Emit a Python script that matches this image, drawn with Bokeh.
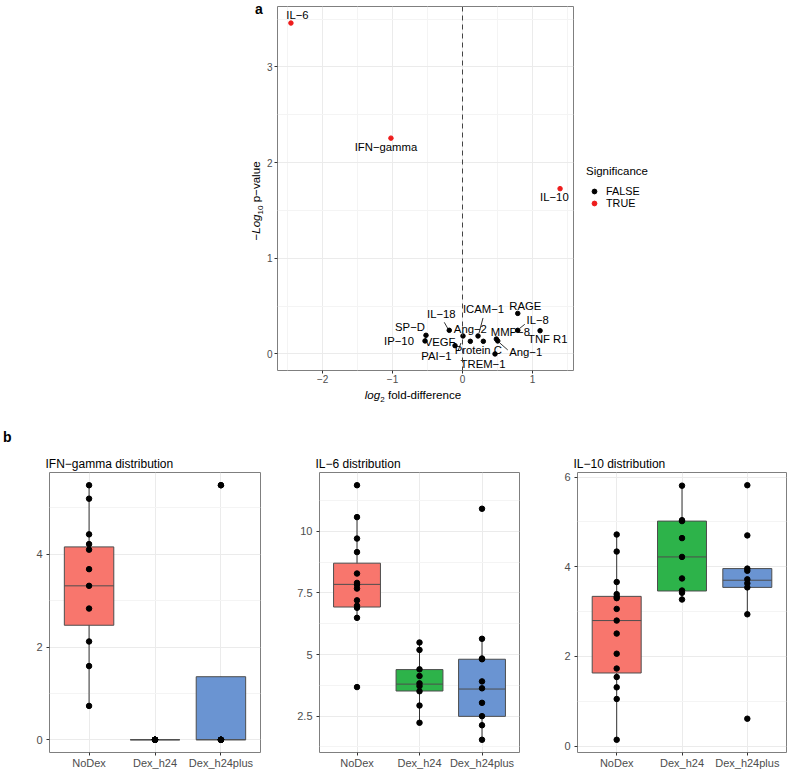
import numpy as np
from bokeh.plotting import figure
from bokeh.models import Range1d, FixedTicker, Legend, LegendItem, ColumnDataSource, Span, Div
from bokeh.layouts import column, row
from bokeh.embed import file_html
from bokeh.resources import INLINE
from bokeh.core.properties import value

FONT = "Liberation Sans"

# ---------------- data: volcano plot ----------------
genes = ["IL−6", "IFN−gamma", "IL−10", "RAGE", "IL−8", "TNF R1", "MMP−8", "Ang−1",
         "TREM−1", "Protein C", "ICAM−1", "Ang−2", "VEGF", "PAI−1", "IL−18", "SP−D", "IP−10"]
log2_fold = [-2.453, -1.023, 1.395, 0.790, 0.790, 1.109, 0.484, 0.504,
             0.465, 0.112, 0.222, 0.298, -0.107, 0.007, -0.189, -0.522, -0.536]
neg_log10_p = [3.459, 2.256, 1.728, 0.424, 0.247, 0.243, 0.156, 0.136,
               0.000, 0.132, 0.188, 0.132, 0.087, 0.188, 0.247, 0.195, 0.136]
significance = [True, True, True] + [False] * 14
vol_xticks = [-2, -1, 0, 1]
vol_xtick_labels = ["−2", "−1", "0", "1"]
vol_yticks = [0, 1, 2, 3]

# label placement (screen pixel offsets from each point; style only)
label_dx = [6.5, -5, -5.7, 7.5, 20, 7.7, 14, 28, -12, 8, 5.5, -13, -15, -26.5, -8, -16, -26]
label_dy = [-8, 8.5, 8, -7, -10, 8.5, -7, 11.5, 10, 9, -26.5, -12, -4, 20.5, -16, -8, 0]
# connector segments (gene, start offset px, end offset px)
connectors = [("IL−18", (-1, -1), (-5, -8)),
              ("ICAM−1", (1, -3), (5, -18)),
              ("IL−8", (2, -2), (7, -6)),
              ("Ang−1", (2, 2), (10, 9)),
              ("PAI−1", (-2, 7), (-5, 15))]

# ---------------- data: box plots ----------------
groups = ["NoDex", "Dex_h24", "Dex_h24plus"]

ifn_nodex = [5.49, 5.20, 4.43, 4.22, 4.10, 3.68, 3.32, 2.83, 2.12, 1.59, 0.73]
ifn_dex_h24 = [0.0] * 9
ifn_dex_h24plus = [0.0, 0.0, 0.0, 0.0, 0.0, 0.0, 5.49, 5.49]
ifn_q1 = [2.47, 0.0, 0.0]
ifn_med = [3.32, 0.0, 0.0]
ifn_q3 = [4.16, 0.0, 1.36]
ifn_lo = [0.73, 0.0, 0.0]
ifn_hi = [5.49, 0.0, 1.36]

il6_nodex = [11.875, 10.58, 9.71, 9.16, 8.29, 7.91, 7.83, 7.68, 7.20, 6.98, 6.90, 6.49, 3.68]
il6_dex_h24 = [5.49, 5.19, 4.40, 4.13, 3.83, 3.72, 3.51, 2.93, 2.23]
il6_dex_h24plus = [10.92, 5.64, 4.84, 4.81, 3.91, 3.63, 3.04, 2.50, 2.13, 1.54]
il6_q1 = [6.93, 3.52, 2.49]
il6_med = [7.85, 3.80, 3.60]
il6_q3 = [8.71, 4.39, 4.81]
il6_lo = [6.49, 2.23, 1.54]
il6_hi = [10.58, 5.49, 5.64]

il10_nodex = [4.72, 4.34, 3.66, 3.39, 3.33, 3.30, 3.06, 2.80, 2.51, 2.06, 1.73, 1.54, 1.31, 1.05, 0.14]
il10_dex_h24 = [5.81, 5.04, 5.02, 4.64, 4.22, 3.74, 3.47, 3.42, 3.27]
il10_dex_h24plus = [5.82, 4.70, 3.96, 3.91, 3.72, 3.63, 3.54, 2.94, 0.61]
il10_q1 = [1.63, 3.46, 3.54]
il10_med = [2.80, 4.22, 3.70]
il10_q3 = [3.34, 5.02, 3.96]
il10_lo = [0.14, 3.27, 2.94]
il10_hi = [4.72, 5.81, 3.96]

box_colors = ["#F8766D", "#2DB34A", "#6A94D2"]


def style_axes(p, tick_size):
    p.axis.axis_line_color = None
    p.axis.major_tick_line_color = "#333333"
    p.axis.major_tick_out = 3
    p.axis.major_tick_in = 0
    p.axis.minor_tick_line_color = None
    p.axis.major_label_text_color = "#4D4D4D"
    p.axis.major_label_text_font = FONT
    p.axis.major_label_text_font_size = tick_size
    p.grid.grid_line_color = "#EBEBEB"
    p.grid.minor_grid_line_color = "#F4F4F4"
    p.outline_line_color = "#7F7F7F"
    p.outline_line_width = 1
    p.background_fill_color = "white"
    p.border_fill_color = "white"


# ---------------- volcano figure ----------------
vx0, vx1, vy0, vy1 = -2.645, 1.587, -0.173, 3.632
V_FW, V_FH = 296, 364

vol = figure(frame_width=V_FW, frame_height=V_FH,
             x_range=Range1d(vx0, vx1), y_range=Range1d(vy0, vy1),
             output_backend="svg", toolbar_location=None, title=None,
             min_border_left=13, min_border_right=2,
             min_border_top=6, min_border_bottom=14)
style_axes(vol, "10px")
xt = FixedTicker(ticks=vol_xticks, minor_ticks=[-2.5, -1.5, -0.5, 0.5, 1.5])
yt = FixedTicker(ticks=vol_yticks, minor_ticks=[0.5, 1.5, 2.5, 3.5])
vol.xaxis.ticker = xt
vol.xgrid.ticker = xt
vol.yaxis.ticker = yt
vol.ygrid.ticker = yt
vol.xaxis.major_label_overrides = {t: l for t, l in zip(vol_xticks, vol_xtick_labels)}
vol.xaxis.major_label_standoff = 0
vol.yaxis.major_label_standoff = 1

vol.add_layout(Span(location=0, dimension="height", line_color="#444444",
                    line_dash="5 4", line_width=1))

sig = np.array(significance)
gx = np.array(log2_fold)
gy = np.array(neg_log10_p)
src_f = ColumnDataSource(dict(x=gx[~sig], y=gy[~sig]))
src_t = ColumnDataSource(dict(x=gx[sig], y=gy[sig]))
vol.scatter("x", "y", source=src_f, size=4.5, color="black")
vol.scatter("x", "y", source=src_t, size=4.5, color="#EE1C1C")

pxu = V_FW / (vx1 - vx0)
pyu = V_FH / (vy1 - vy0)
idx = {g: i for i, g in enumerate(genes)}
sx0, sy0, sx1, sy1 = [], [], [], []
for g, (a0, b0), (a1, b1) in connectors:
    i = idx[g]
    sx0.append(gx[i] + a0 / pxu); sy0.append(gy[i] - b0 / pyu)
    sx1.append(gx[i] + a1 / pxu); sy1.append(gy[i] - b1 / pyu)
vol.segment(sx0, sy0, sx1, sy1, line_color="black", line_width=0.8)

lab_src = ColumnDataSource(dict(x=gx, y=gy, text=genes, dx=label_dx, dy=label_dy))
vol.text("x", "y", text="text", x_offset="dx", y_offset="dy", source=lab_src,
         text_font=value(FONT), text_font_size="11.3px", text_color="black",
         text_align="center", text_baseline="middle")

# ---------------- legend figure (beside the volcano) ----------------
leg = figure(frame_width=100, frame_height=374, x_range=Range1d(10, 11), y_range=Range1d(10, 11),
             output_backend="svg", toolbar_location=None, title=None,
             x_axis_location=None, y_axis_location=None, min_border=0)
leg.outline_line_color = None
leg.background_fill_color = "white"
leg.border_fill_color = "white"
leg.grid.grid_line_color = None
leg.grid.minor_grid_line_color = None
leg.grid.visible = False
lf = leg.scatter("x", "y", source=src_f, size=4.5, color="black")
lt = leg.scatter("x", "y", source=src_t, size=4.5, color="#EE1C1C")
legend = Legend(items=[LegendItem(label="FALSE", renderers=[lf]),
                       LegendItem(label="TRUE", renderers=[lt])],
                title="Significance", location="center_left", orientation="vertical",
                margin=11, padding=10, spacing=0, glyph_width=16, glyph_height=12,
                label_height=12, label_width=30, label_standoff=4, title_standoff=8,
                border_line_color=None, background_fill_alpha=0,
                label_text_font=FONT, label_text_font_size="10.8px",
                label_text_color="black",
                title_text_font=FONT, title_text_font_size="11.5px",
                title_text_font_style="normal", title_text_color="black")
leg.add_layout(legend)

# ---------------- HTML text blocks (panel letters, axis titles) ----------------
FF = "font-family:'Liberation Sans',Arial,sans-serif;color:black;"
left_html = (
    f'<div style="position:relative;width:263px;height:386px;{FF}">'
    '<div style="position:absolute;left:255px;top:2px;font-size:14px;font-weight:bold;line-height:14px;">a</div>'
    '<div style="position:absolute;left:255px;top:201px;width:0;height:0;">'
    '<div style="position:absolute;left:0;top:0;transform:translate(-50%,-50%) rotate(-90deg);'
    'white-space:nowrap;font-size:11.6px;line-height:13px;">'
    '−<i>Log</i><sub style="font-size:8px;line-height:0;">10</sub> p−value</div></div>'
    '</div>')
left_div = Div(text=left_html, width=263, height=386, margin=0)

mid_html = (
    f'<div style="position:relative;width:788px;height:66px;{FF}">'
    '<div style="position:absolute;left:413px;top:8px;transform:translate(-50%,-50%);'
    'white-space:nowrap;font-size:11.6px;line-height:13px;">'
    '<i>log</i><sub style="font-size:8px;line-height:0;">2</sub> fold-difference</div>'
    '<div style="position:absolute;left:3px;top:51px;transform:translate(0,-50%);'
    'font-size:14px;font-weight:bold;line-height:14px;">b</div>'
    '</div>')
mid_div = Div(text=mid_html, width=788, height=66, margin=0)

# ---------------- box plot figures ----------------
B_FH = 280


def box_fig(title, vals, q1, med, q3, lo, hi, ticks, minors, ml, fw, mr):
    allv = np.concatenate([np.asarray(v, float) for v in vals])
    pad = 0.05 * (allv.max() - allv.min())
    p = figure(frame_width=fw, frame_height=B_FH, title=title,
               x_range=Range1d(0.4, 3.6), y_range=Range1d(allv.min() - pad, allv.max() + pad),
               output_backend="svg", toolbar_location=None,
               min_border_left=ml, min_border_right=mr,
               min_border_top=0, min_border_bottom=0)
    style_axes(p, "11px")
    p.title.align = "left"
    p.title.offset = -4
    p.title.standoff = 4
    p.title.text_font = FONT
    p.title.text_font_size = "12px"
    p.title.text_font_style = "normal"
    p.title.text_color = "black"
    xtk = FixedTicker(ticks=[1, 2, 3], minor_ticks=[])
    ytk = FixedTicker(ticks=ticks, minor_ticks=minors)
    p.xaxis.ticker = xtk
    p.xgrid.ticker = xtk
    p.yaxis.ticker = ytk
    p.ygrid.ticker = ytk
    p.xaxis.major_label_overrides = {i + 1: g for i, g in enumerate(groups)}
    p.xaxis.major_label_standoff = 1
    p.yaxis.major_label_standoff = 3
    xs = np.arange(1, len(groups) + 1, dtype=float)
    p.segment(xs, lo, xs, hi, line_color="#333333", line_width=1)
    p.vbar(x=xs, width=0.75, bottom=q1, top=q3, fill_color=box_colors,
           line_color="#4D4D4D", line_width=1)
    p.segment(xs - 0.375, med, xs + 0.375, med, line_color="#4D4D4D", line_width=1)
    px = np.concatenate([np.full(len(v), i + 1.0) for i, v in enumerate(vals)])
    p.scatter(px, allv, size=5.5, color="black")
    return p


p1 = box_fig("IFN−gamma distribution", [ifn_nodex, ifn_dex_h24, ifn_dex_h24plus],
             ifn_q1, ifn_med, ifn_q3, ifn_lo, ifn_hi, [0, 2, 4], [1, 3, 5],
             49, 211, 20)
p2 = box_fig("IL−6 distribution", [il6_nodex, il6_dex_h24, il6_dex_h24plus],
             il6_q1, il6_med, il6_q3, il6_lo, il6_hi, [2.5, 5.0, 7.5, 10.0],
             [1.25, 3.75, 6.25, 8.75, 11.25], 39, 200, 19)
p3 = box_fig("IL−10 distribution", [il10_nodex, il10_dex_h24, il10_dex_h24plus],
             il10_q1, il10_med, il10_q3, il10_lo, il10_hi, [0, 2, 4, 6], [1, 3, 5],
             39, 209, 1)

layout = column(row(left_div, vol, leg), mid_div, row(p1, p2, p3))
open("out.html", "w").write(file_html(layout, INLINE))
